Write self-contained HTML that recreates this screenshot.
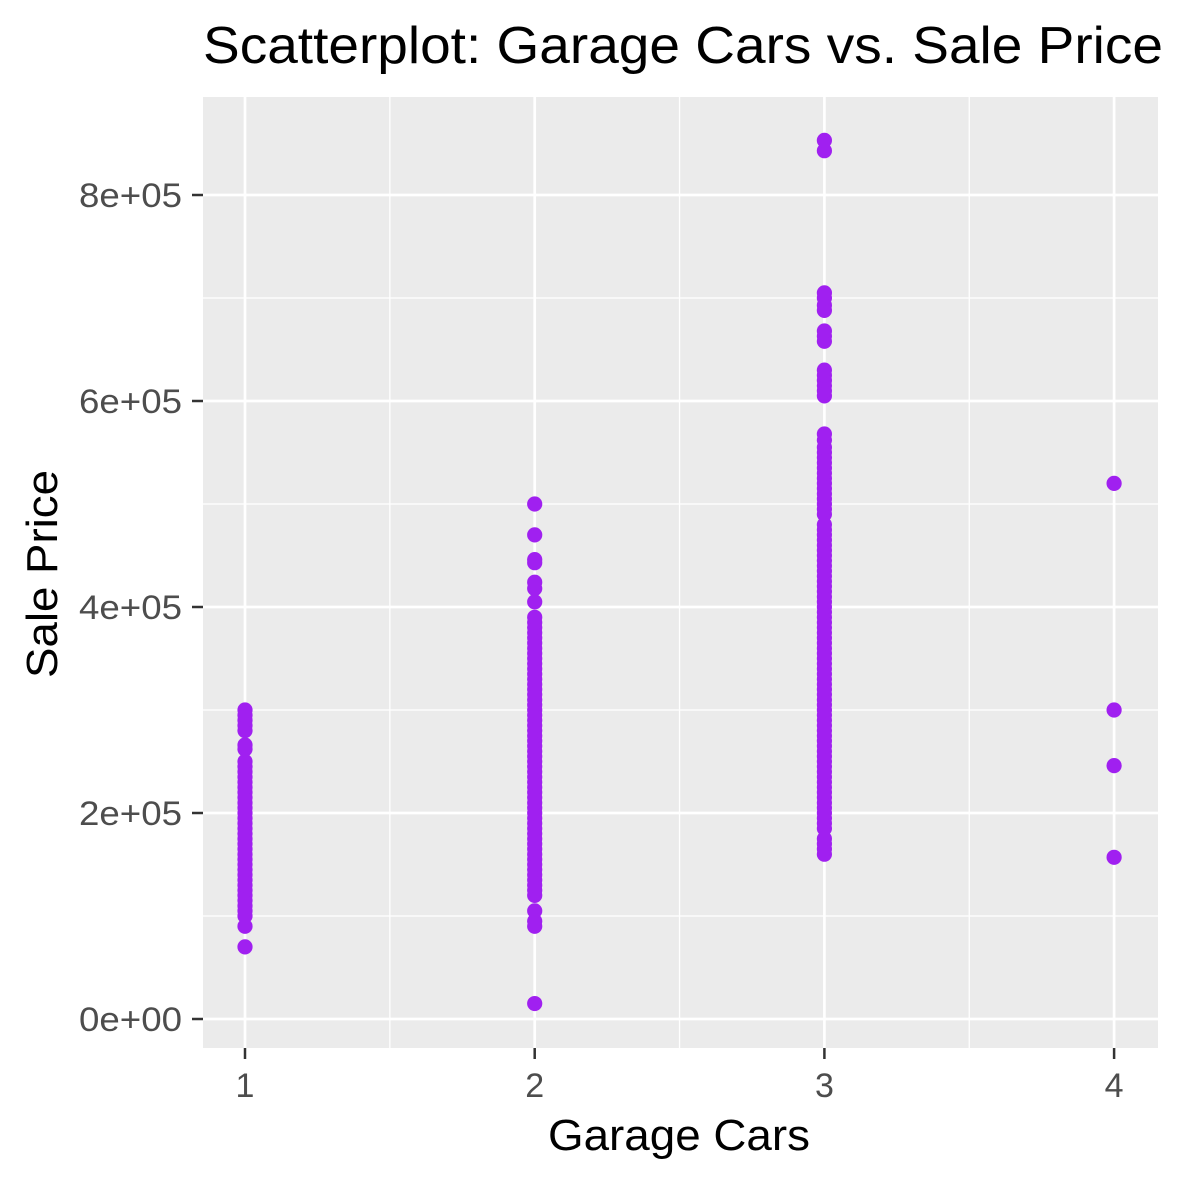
<!DOCTYPE html>
<html><head><meta charset="utf-8"><style>
html,body{margin:0;padding:0;background:#fff;}
svg{display:block;font-family:"Liberation Sans",Arial,sans-serif;}
</style></head><body>
<svg id="chart" width="1181" height="1181" viewBox="0 0 1181 1181">
<rect width="1181" height="1181" fill="#fff"/>
<text x="203" y="63" font-size="52" textLength="960" lengthAdjust="spacingAndGlyphs" fill="#000">Scatterplot: Garage Cars vs. Sale Price</text>
<rect x="203" y="97" width="955" height="951" fill="#EBEBEB"/>
<g id="grid"></g><g id="points"></g><g id="axes"></g>
<text x="679" y="1150" font-size="44" textLength="262" lengthAdjust="spacingAndGlyphs" text-anchor="middle" fill="#000">Garage Cars</text>
<text transform="translate(57,574) rotate(-90)" font-size="44" textLength="208" lengthAdjust="spacingAndGlyphs" text-anchor="middle" fill="#000">Sale Price</text>
</svg>
<script>
const xTicks=[1,2,3,4];
const xMinor=[1.5,2.5,3.5];
const yTicks=[0,200000,400000,600000,800000];
const yTickLabels=["0e+00","2e+05","4e+05","6e+05","8e+05"];
const yMinor=[100000,300000,500000,700000];
const cars1=[70000,90000,100000,105000,110000,115000,120000,125000,130000,135000,140000,145000,150000,155000,160000,165000,170000,175000,180000,185000,190000,195000,200000,205000,210000,215000,220000,225000,230000,235000,240000,245000,250000,262000,266000,280000,285000,290000,295000,300000];
const cars2=[15000,90000,95000,105000,120000,125000,130000,135000,140000,145000,150000,155000,160000,165000,170000,175000,180000,185000,190000,195000,200000,205000,210000,215000,220000,225000,230000,235000,240000,245000,250000,255000,260000,265000,270000,275000,280000,285000,290000,295000,300000,305000,310000,315000,320000,325000,330000,335000,340000,345000,350000,355000,360000,365000,370000,375000,380000,385000,390000,405000,418000,424000,443000,446000,470000,500000];
const cars3=[160000,165000,170000,175000,185000,190000,195000,200000,205000,210000,215000,220000,225000,230000,235000,240000,245000,250000,255000,260000,265000,270000,275000,280000,285000,290000,295000,300000,305000,310000,315000,320000,325000,330000,335000,340000,345000,350000,355000,360000,365000,370000,375000,380000,385000,390000,395000,400000,405000,410000,415000,420000,425000,430000,435000,440000,445000,450000,455000,460000,465000,470000,475000,480000,490000,495000,500000,505000,510000,515000,520000,525000,530000,535000,540000,545000,550000,555000,562000,568000,605000,610000,615000,620000,625000,630000,658000,663000,668000,688000,693000,700000,705000,843000,853000];
const cars4=[157000,246000,300000,520000];
const groups=[[1,cars1],[2,cars2],[3,cars3],[4,cars4]];
const NS="http://www.w3.org/2000/svg";
const X=v=>245+(v-1)*289.7;
const Y=v=>1019-v*0.00103;
function mk(tag,attrs,parent){const e=document.createElementNS(NS,tag);for(const k in attrs)e.setAttribute(k,attrs[k]);parent.appendChild(e);return e;}
const grid=document.getElementById('grid'),pts=document.getElementById('points'),axes=document.getElementById('axes');
yMinor.forEach(v=>{const l=mk('line',{x1:203,x2:1158,y1:Y(v),y2:Y(v),stroke:'#fff','stroke-width':1.3},grid);

});
xMinor.forEach(v=>{const l=mk('line',{x1:X(v),x2:X(v),y1:97,y2:1048,stroke:'#fff','stroke-width':1.3},grid);

});
yTicks.forEach((v,i)=>{const l=mk('line',{x1:203,x2:1158,y1:Y(v),y2:Y(v),stroke:'#fff','stroke-width':2.7},grid);


const t=mk('line',{x1:192,x2:203,y1:Y(v),y2:Y(v),stroke:'#333','stroke-width':2.5},axes);


const tx=mk('text',{x:182,y:Y(v)+12,'font-size':34,'text-anchor':'end',textLength:103,lengthAdjust:'spacingAndGlyphs',fill:'#4D4D4D'},axes);tx.textContent=yTickLabels[i];

});
xTicks.forEach(v=>{const l=mk('line',{x1:X(v),x2:X(v),y1:97,y2:1048,stroke:'#fff','stroke-width':2.7},grid);


const t=mk('line',{x1:X(v),x2:X(v),y1:1048,y2:1059,stroke:'#333','stroke-width':2.5},axes);


const tx=mk('text',{x:X(v),y:1097,'font-size':34,'text-anchor':'middle',fill:'#4D4D4D'},axes);tx.textContent=String(v);

});
groups.forEach(([g,vals])=>vals.forEach(v=>{const c=mk('circle',{cx:X(g),cy:Y(v),r:7.6,fill:'#A020F0'},pts);

}));
</script>
</body></html>
